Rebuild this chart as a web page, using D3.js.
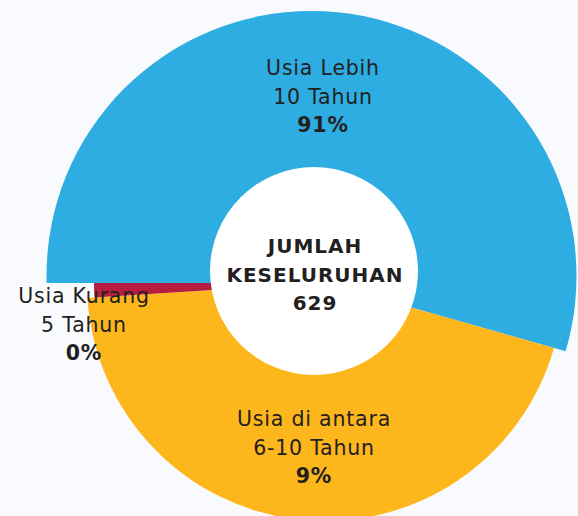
<!DOCTYPE html>
<html>
<head>
<meta charset="utf-8">
<script src="https://cdn.jsdelivr.net/npm/d3@7"></script>
<style>
  html, body { margin: 0; padding: 0; background: #f9fafd; }
  svg { display: block; }
  text { font-family: "DejaVu Sans", "Open Sans", sans-serif; fill: #231f20; }
</style>
</head>
<body>
<svg id="chart" width="578" height="516"></svg>
<script>
// ---- data ----
const categories = ["Usia Lebih 10 Tahun", "Usia di antara 6-10 Tahun", "Usia Kurang 5 Tahun"];
const labelLines = [["Usia Lebih", "10 Tahun"], ["Usia di antara", "6-10 Tahun"], ["Usia Kurang", "5 Tahun"]];
const percentLabels = ["91%", "9%", "0%"];
// share of the ring each slice occupies, as drawn in the picture (percent of 360°)
const drawnShare = [54.4, 44.6, 1.0];
const colors = ["#2dade1", "#fdb61b", "#b71d3f"];
const centerTitle = ["JUMLAH", "KESELURUHAN"];
const total = 629;

// ---- layout ----
const W = 578, H = 516;
const cx = 325, cy = 283;             // base centre of the pie
const outerR = [265, 238, 231];       // outer radius per slice
const blueCircle = {dx: -13.5, dy: -7}; // offset of the larger blue disc
const hole = {x: 314, y: 271, r: 104};

const svg = d3.select("#chart");
const defs = svg.append("defs");

const pie = d3.pie().sort(null).value(d => d)
  .startAngle(-Math.PI / 2).endAngle(-Math.PI / 2 + 2 * Math.PI);
const arcs = pie(drawnShare);

const g = svg.append("g").attr("transform", `translate(${cx},${cy})`);

// wedge clip for the first (blue) slice, which uses an off-centre disc
const wedge = d3.arc().innerRadius(0).outerRadius(400);
defs.append("clipPath").attr("id", "clip0")
  .append("path").attr("d", wedge(arcs[0]));

arcs.forEach((a, i) => {
  if (i === 0) {
    g.append("circle")
      .attr("cx", blueCircle.dx).attr("cy", blueCircle.dy)
      .attr("r", outerR[0])
      .attr("clip-path", "url(#clip0)")
      .attr("fill", colors[0]);
  } else {
    const arc = d3.arc().innerRadius(0).outerRadius(outerR[i]);
    g.append("path").attr("d", arc(a)).attr("fill", colors[i]);
  }
});

// centre hole
svg.append("circle").attr("cx", hole.x).attr("cy", hole.y).attr("r", hole.r).attr("fill", "#ffffff");

// centre text
const ct = svg.append("text").attr("text-anchor", "middle")
  .style("font-weight", "700").style("font-size", "20px").style("letter-spacing", "1px");
[...centerTitle, String(total)].forEach((t, i) => {
  ct.append("tspan").attr("x", 315).attr("y", 253 + i * 28.5).text(t);
});

// slice labels
const labelPos = [
  {x: 323, y: 75},
  {x: 314, y: 426},
  {x: 84, y: 303}
];
labelLines.forEach((lines, i) => {
  const t = svg.append("text").attr("text-anchor", "middle")
    .style("font-size", "20.5px").style("letter-spacing", "0.8px");
  lines.forEach((l, j) => {
    t.append("tspan").attr("x", labelPos[i].x).attr("y", labelPos[i].y + j * 28.5).text(l);
  });
  t.append("tspan").attr("x", labelPos[i].x).attr("y", labelPos[i].y + 2 * 28.5)
    .style("font-weight", "700").text(percentLabels[i]);
});
</script>
</body>
</html>
